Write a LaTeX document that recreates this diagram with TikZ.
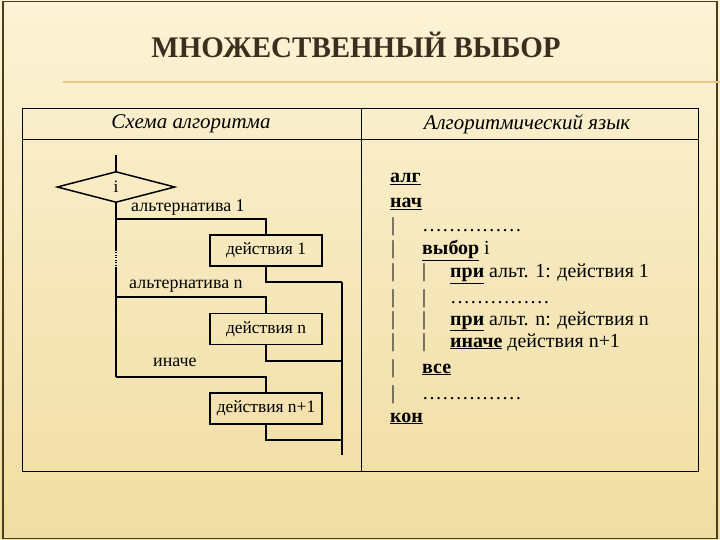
\documentclass[tikz,border=0pt]{standalone}
\usepackage{fontspec}
\setmainfont{Liberation Serif}
\usepackage{graphicx}
\usetikzlibrary{shapes.geometric}
\definecolor{slBack}   {RGB}{252,243,214}
\definecolor{slBackLow}{RGB}{240,221,162}
\definecolor{slFrame}  {RGB}{ 75, 61, 26}
\definecolor{slTitle}  {RGB}{ 60, 46, 30}
\definecolor{slRule}   {RGB}{232,200,136}
\newcommand{\kwd}[1]{\underline{\textbf{#1}}}

\begin{document}
\begin{tikzpicture}[x=1bp,y=-1bp,
  every node/.style={inner sep=0pt,font=\fontsize{17.5}{20}\selectfont},
  grid/.style={line width=0.9bp},
  flow/.style={line width=1.5bp},
  act/.style={draw,flow,minimum width=112bp,minimum height=31bp},
  head/.style={font=\fontsize{21}{24}\selectfont\itshape},
  code/.style={anchor=base west,font=\fontsize{20}{23}\selectfont}
]
\useasboundingbox (0,0) rectangle (720,540);
% Slide background and frame
\shade[top color=slBack,bottom color=slBackLow] (0,0) rectangle (720,540);
\draw[slFrame,line width=1.5bp] (3,1.5) rectangle (717,538.5);
\node[font=\fontsize{30}{34}\selectfont\bfseries,text=slTitle] (title) at (356,45)
  {\scalebox{0.97}[1]{МНОЖЕСТВЕННЫЙ ВЫБОР}};
\draw[slRule,line width=2bp] (63,82) -- (720,82);
% Table
\draw[grid] (22,108) rectangle (698,471);
\draw[grid] (22,139) -- (698,139);
\draw[grid] (361,108) -- (361,471);
\node[head] (hscheme) at (191,124) {Схема алгоритма};
\node[head] (hlang)   at (527,124) {Алгоритмический язык};
% Flowchart
\coordinate (in)   at (116,155);
\coordinate (d1)   at (116,250);
\coordinate (d2)   at (116,267);
\coordinate (b1)   at (116,219);
\coordinate (bn)   at (116,297);
\coordinate (els)  at (116,377);
\coordinate (m1)   at (342,282);
\coordinate (mn)   at (342,361);
\coordinate (mnn)  at (342,440);
\coordinate (out)  at (342,455);
\node[diamond,draw,flow,minimum width=118bp,minimum height=31bp] (sel) at (116,187) {i};
\node[act] (act1)  at (266,250.5) {действия 1};
\node[act] (actn)  at (266,329)   {действия n};
\node[act] (actnn) at (266,408.5) {действия n+1};
\node[anchor=west,font=\fontsize{18}{21}\selectfont] (lalt1) at (131,207) {альтернатива 1};
\node[anchor=west,font=\fontsize{18}{21}\selectfont] (laltn) at (129,286) {альтернатива n};
\node[anchor=west,font=\fontsize{18}{21}\selectfont] (lels)  at (153,362) {иначе};
\draw[flow] (in) -- (sel.north);
\draw[flow] (sel.south) -- (d1);
\draw[flow,dash pattern=on 1bp off 1.5bp] (d1) -- (d2);
\draw[flow] (d2) -- (els);
\draw[flow] (b1) -| (act1.north);
\draw[flow] (bn) -| (actn.north);
\draw[flow] (els) -| (actnn.north);
\draw[flow] (act1.south) |- (m1);
\draw[flow] (actn.south) |- (mn);
\draw[flow] (actnn.south) |- (mnn);
\draw[flow] (m1) -- (out);
% Algorithmic language
\node[code] (c1)  at (390,183) {\kwd{алг}};
\node[code] (c2)  at (390,208) {\kwd{нач}};
\node[code] (c3)  at (391,232) {\makebox[31bp][l]{|}……………};
\node[code] (c4)  at (391,255) {\makebox[31bp][l]{|}\kwd{выбор} i};
\node[code] (c5)  at (391,278) {\makebox[31bp][l]{|}\makebox[28bp][l]{|}\kwd{при} альт. 1: действия 1};
\node[code] (c6)  at (391,303) {\makebox[31bp][l]{|}\makebox[28bp][l]{|}……………};
\node[code] (c7)  at (391,325) {\makebox[31bp][l]{|}\makebox[28bp][l]{|}\kwd{при} альт. n: действия n};
\node[code] (c8)  at (391,347) {\makebox[31bp][l]{|}\makebox[28bp][l]{|}\kwd{иначе} действия n+1};
\node[code] (c9)  at (391,373) {\makebox[31bp][l]{|}\kwd{все}};
\node[code] (c10) at (391,399) {\makebox[31bp][l]{|}……………};
\node[code] (c11) at (390,422) {\kwd{кон}};
\end{tikzpicture}
\end{document}
